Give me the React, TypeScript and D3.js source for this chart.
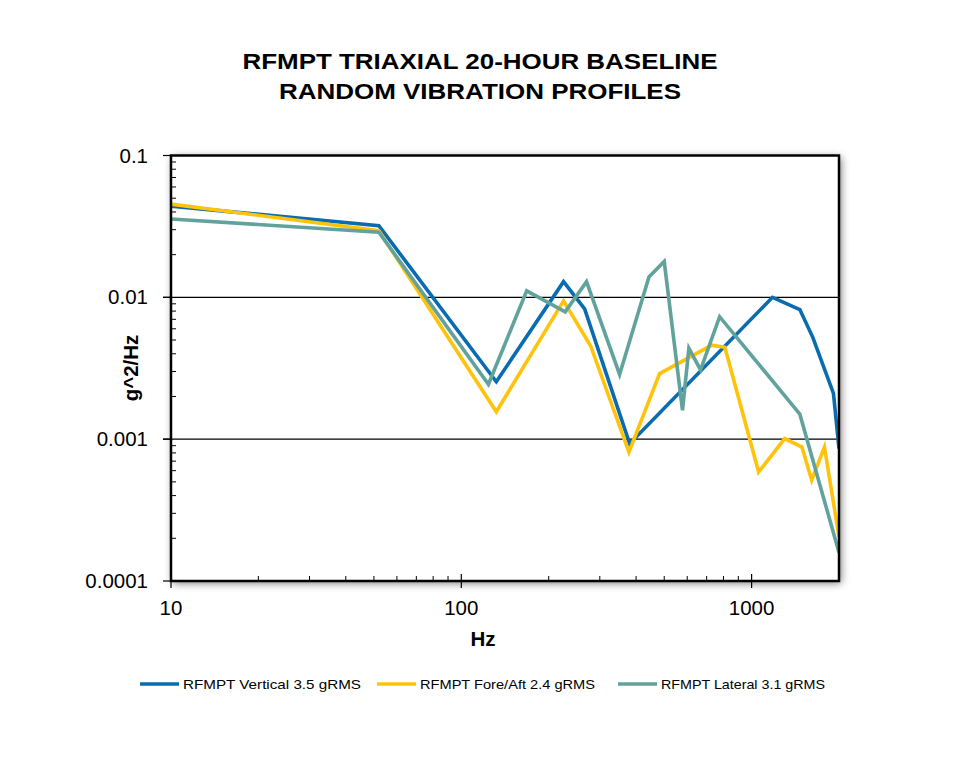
import React from "react";
import * as d3 from "d3";

const titleLines = ["RFMPT TRIAXIAL 20-HOUR BASELINE", "RANDOM VIBRATION PROFILES"];
const seriesNames = ["RFMPT Vertical 3.5 gRMS", "RFMPT Fore/Aft 2.4 gRMS", "RFMPT Lateral 3.1 gRMS"];
const seriesColors = ["#0A6CB0", "#FFC30B", "#62A29D"];

const verticalHz = [10, 52, 132, 225, 266, 380, 1180, 1466, 1626, 1914, 2000];
const verticalPsd = [0.044, 0.032, 0.00254, 0.0129, 0.0083, 0.00093, 0.0100, 0.0082, 0.0052, 0.0021, 0.00086];

const foreAftHz = [10, 52, 132, 225, 279, 378, 482, 729, 809, 1057, 1300, 1490, 1611, 1782, 2000];
const foreAftPsd = [0.0454, 0.0295, 0.00156, 0.00944, 0.00454, 0.00081, 0.0029, 0.0046, 0.00444, 0.000586, 0.00101, 0.00088, 0.000514, 0.00088, 0.000205];

const lateralHz = [10, 52, 124, 168, 228, 270, 351, 443, 500, 578, 608, 667, 776, 1466, 2000];
const lateralPsd = [0.0357, 0.0288, 0.00244, 0.0111, 0.0079, 0.0129, 0.00286, 0.0139, 0.0179, 0.0016, 0.00437, 0.00308, 0.0073, 0.0015, 0.000159];

const xMajor = [10, 100, 1000];
const xMajorLabels = ["10", "100", "1000"];
const yMajor = [0.0001, 0.001, 0.01, 0.1];
const yMajorLabels = ["0.0001", "0.001", "0.01", "0.1"];

const FONT = "'Liberation Sans', Arial, sans-serif";

export default function App() {
  const W = 960, H = 769;
  const left = 171, right = 839, top = 155.5, bottom = 581;
  const x = d3.scaleLog().domain([10, 2000]).range([left, right]);
  const y = d3.scaleLog().domain([0.0001, 0.1]).range([bottom, top]);

  const xMinor: number[] = [];
  [10, 100, 1000].forEach((d) => {
    for (let k = 2; k <= 9; k++) {
      const v = d * k;
      if (v < 2000) xMinor.push(v);
    }
  });
  const yMinor: number[] = [];
  [0.0001, 0.001, 0.01].forEach((d) => {
    for (let k = 2; k <= 9; k++) yMinor.push(d * k);
  });

  const line = d3
    .line<[number, number]>()
    .x((d) => x(d[0]))
    .y((d) => y(d[1]));

  const series = [
    verticalHz.map((h, i) => [h, verticalPsd[i]] as [number, number]),
    foreAftHz.map((h, i) => [h, foreAftPsd[i]] as [number, number]),
    lateralHz.map((h, i) => [h, lateralPsd[i]] as [number, number]),
  ];

  const legendX = [140, 377, 618];
  const legendTextLen = [178, 175, 164];
  const titleLen = [475, 402];

  return (
    <svg width={W} height={H} style={{ display: "block", position: "absolute", left: 0, top: 0 }}>
      <defs>
        <filter id="shadow" x="-10%" y="-10%" width="120%" height="120%">
          <feDropShadow dx="2" dy="2" stdDeviation="4" floodColor="#000" floodOpacity="0.55" />
        </filter>
        <clipPath id="clip">
          <rect x={left} y={top} width={right - left} height={bottom - top} />
        </clipPath>
      </defs>
      <rect x={0} y={0} width={W} height={H} fill="#fff" />
      {titleLines.map((t, i) => (
        <text
          key={i}
          x={480 - titleLen[i] / 2}
          y={68.5 + i * 30.5}
          textLength={titleLen[i]}
          lengthAdjust="spacingAndGlyphs"
          fontFamily={FONT}
          fontWeight="bold"
          fontSize={22}
          fill="#000"
        >
          {t}
        </text>
      ))}
      <rect x={left} y={top} width={right - left} height={bottom - top} fill="#fff" filter="url(#shadow)" />
      {/* gridlines */}
      {[0.001, 0.01].map((v) => (
        <line key={v} x1={left - 8} x2={right} y1={y(v)} y2={y(v)} stroke="#000" strokeWidth={1.2} />
      ))}
      {/* series */}
      <g clipPath="url(#clip)">
        {series.map((s, i) => (
          <path key={i} d={line(s) || ""} fill="none" stroke={seriesColors[i]} strokeWidth={3.6} strokeLinejoin="miter" />
        ))}
      </g>
      {/* minor ticks */}
      {yMinor.map((v) => (
        <line key={"ym" + v} x1={left} x2={left + 5} y1={y(v)} y2={y(v)} stroke="#000" strokeWidth={1} />
      ))}
      {xMinor.map((v) => (
        <line key={"xm" + v} x1={x(v)} x2={x(v)} y1={bottom} y2={bottom - 5} stroke="#000" strokeWidth={1} />
      ))}
      {/* major ticks */}
      {yMajor.map((v) => (
        <line key={"yM" + v} x1={left - 8} x2={left} y1={y(v)} y2={y(v)} stroke="#000" strokeWidth={1.2} />
      ))}
      {xMajor.map((v) => (
        <line key={"xM" + v} x1={x(v)} x2={x(v)} y1={bottom - 7} y2={bottom + 7} stroke="#000" strokeWidth={1.2} />
      ))}
      {/* frame */}
      <rect x={left} y={top} width={right - left} height={bottom - top} fill="none" stroke="#000" strokeWidth={2.5} />
      {/* tick labels */}
      {yMajor.map((v, i) => (
        <text key={"yl" + v} x={148} y={y(v) + 7} textAnchor="end" fontFamily={FONT} fontSize={20.5} fill="#000">
          {yMajorLabels[i]}
        </text>
      ))}
      {xMajor.map((v, i) => (
        <text key={"xl" + v} x={x(v)} y={615} textAnchor="middle" fontFamily={FONT} fontSize={20.5} fill="#000">
          {xMajorLabels[i]}
        </text>
      ))}
      <text x={483} y={646} textAnchor="middle" fontFamily={FONT} fontWeight="bold" fontSize={20.5} fill="#000">
        Hz
      </text>
      <text
        transform={`translate(138, 368) rotate(-90)`}
        textAnchor="middle"
        fontFamily={FONT}
        fontWeight="bold"
        fontSize={20.5}
        fill="#000"
      >
        g^2/Hz
      </text>
      {/* legend */}
      {seriesNames.map((n, i) => (
        <g key={n}>
          <line x1={legendX[i]} x2={legendX[i] + 39} y1={684} y2={684} stroke={seriesColors[i]} strokeWidth={3.6} />
          <text
            x={legendX[i] + 43}
            y={689}
            textLength={legendTextLen[i]}
            lengthAdjust="spacingAndGlyphs"
            fontFamily={FONT}
            fontSize={13.5}
            fill="#000"
          >
            {n}
          </text>
        </g>
      ))}
    </svg>
  );
}
